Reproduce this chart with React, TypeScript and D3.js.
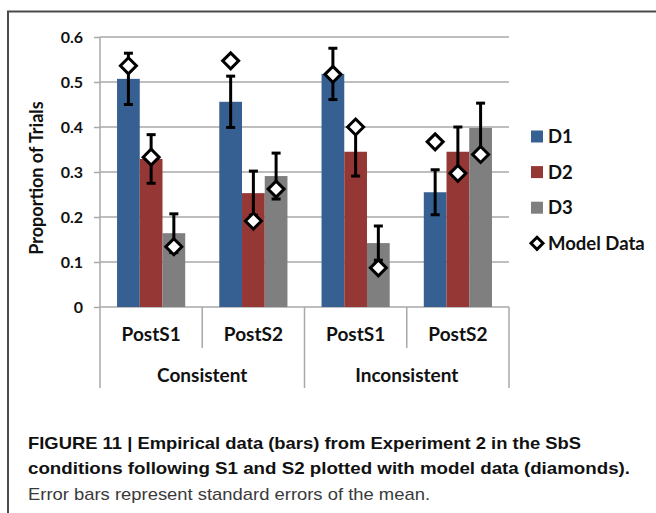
import { useRef, useEffect } from "react";
import * as d3 from "d3";

// categories
const conditions = ["PostS1", "PostS2", "PostS1", "PostS2"];
const groups = ["Consistent", "Inconsistent"];
const seriesNames = ["D1", "D2", "D3"];

// empirical means (bars)
const d1Values = [0.507, 0.456, 0.518, 0.255];
const d2Values = [0.329, 0.253, 0.345, 0.345];
const d3Values = [0.164, 0.291, 0.142, 0.398];

// standard errors
const d1Errors = [0.057, 0.057, 0.057, 0.05];
const d2Errors = [0.054, 0.049, 0.054, 0.055];
const d3Errors = [0.043, 0.051, 0.038, 0.055];

// model data (diamonds)
const modelD1 = [0.536, 0.547, 0.517, 0.367];
const modelD2 = [0.333, 0.191, 0.4, 0.297];
const modelD3 = [0.134, 0.262, 0.087, 0.339];

const yTicks = [0, 0.1, 0.2, 0.3, 0.4, 0.5, 0.6];
const colors = ["#376092", "#953735", "#7f7f7f"];

const captionLines = [
  "FIGURE 11 | Empirical data (bars) from Experiment 2 in the SbS",
  "conditions following S1 and S2 plotted with model data (diamonds).",
  "Error bars represent standard errors of the mean.",
];

export default function App() {
  const svgRef = useRef<SVGSVGElement>(null);

  useEffect(() => {
    if (!svgRef.current) return;
    const svg = d3.select(svgRef.current);
    svg.selectAll("*").remove();

    const width = 656;
    const height = 513;
    const font = "Lato, 'Open Sans', sans-serif";
    const gridColor = "#a8a8a8";

    const left = 100;
    const right = 509;
    const top = 37;
    const bottom = 307;

    svg.attr("width", width).attr("height", height);

    // figure frame (top + left)
    svg
      .append("path")
      .attr("d", `M8,${height} L8,11.5 L${width},11.5`)
      .attr("fill", "none")
      .attr("stroke", "#4a4a4a")
      .attr("stroke-width", 2);

    const x = d3
      .scaleBand<number>()
      .domain(d3.range(conditions.length))
      .range([left, right])
      .padding(0);

    const xInner = d3
      .scaleBand()
      .domain(seriesNames)
      .range([0, x.bandwidth()])
      .paddingInner(0)
      .paddingOuter(0.75);

    const y = d3.scaleLinear().domain([0, 0.6]).range([bottom, top]);

    // Grid lines
    svg
      .selectAll(".grid-line")
      .data(yTicks.filter((d) => d > 0))
      .join("line")
      .attr("class", "grid-line")
      .attr("x1", left)
      .attr("x2", right)
      .attr("y1", (d) => y(d))
      .attr("y2", (d) => y(d))
      .attr("stroke", gridColor)
      .attr("stroke-width", 1.5);

    // Y axis
    const yAxis = svg
      .append("g")
      .attr("transform", `translate(${left},0)`)
      .call(
        d3
          .axisLeft(y)
          .tickValues(yTicks)
          .tickSize(6)
          .tickPadding(11)
          .tickFormat((d) => (d === 0 ? "0" : d3.format(".1f")(d as number)))
      );
    yAxis.select(".domain").remove();
    yAxis.selectAll(".tick line").attr("stroke", gridColor).attr("stroke-width", 1.5);
    yAxis
      .selectAll("text")
      .attr("fill", "#111")
      .style("font-family", font)
      .style("font-weight", "bold")
      .style("font-size", "16px");

    // axis line continuing into category area
    svg
      .append("line")
      .attr("x1", left)
      .attr("x2", left)
      .attr("y1", top)
      .attr("y2", 388)
      .attr("stroke", gridColor)
      .attr("stroke-width", 1.5);

    // category separators
    const seps = d3.range(1, conditions.length + 1).map((i) => ({
      xpos: i < conditions.length ? x(i)! : right,
      outer: i % 2 === 0,
    }));
    svg
      .selectAll(".sep")
      .data(seps)
      .join("line")
      .attr("class", "sep")
      .attr("x1", (d) => d.xpos)
      .attr("x2", (d) => d.xpos)
      .attr("y1", bottom)
      .attr("y2", (d) => (d.outer ? 388 : 348))
      .attr("stroke", gridColor)
      .attr("stroke-width", 1.5);

    // baseline
    svg
      .append("line")
      .attr("x1", left)
      .attr("x2", right)
      .attr("y1", bottom)
      .attr("y2", bottom)
      .attr("stroke", gridColor)
      .attr("stroke-width", 1.5);

    const allValues = [d1Values, d2Values, d3Values];
    const allErrors = [d1Errors, d2Errors, d3Errors];
    const allModel = [modelD1, modelD2, modelD3];

    const points = seriesNames.flatMap((s, si) =>
      conditions.map((_, ci) => ({
        s,
        si,
        ci,
        value: allValues[si][ci],
        err: allErrors[si][ci],
        model: allModel[si][ci],
      }))
    );
    const cx = (d: { s: string; ci: number }) =>
      x(d.ci)! + xInner(d.s)! + xInner.bandwidth() / 2;

    // Bars
    svg
      .selectAll(".bar")
      .data(points)
      .join("rect")
      .attr("class", "bar")
      .attr("x", (d) => x(d.ci)! + xInner(d.s)!)
      .attr("y", (d) => y(d.value))
      .attr("width", xInner.bandwidth())
      .attr("height", (d) => bottom - y(d.value))
      .attr("fill", (d) => colors[d.si]);

    // Error bars
    const eb = svg.append("g").attr("stroke", "#000").attr("stroke-width", 3);
    points.forEach((d) => {
      const c = cx(d);
      const y1 = y(d.value + d.err);
      const y2 = y(d.value - d.err);
      eb.append("line").attr("x1", c).attr("x2", c).attr("y1", y1).attr("y2", y2);
      eb.append("line").attr("x1", c - 4.5).attr("x2", c + 4.5).attr("y1", y1).attr("y2", y1);
      eb.append("line").attr("x1", c - 4.5).attr("x2", c + 4.5).attr("y1", y2).attr("y2", y2);
    });

    // Model diamonds
    const diamond = (r: number) => `M0,${-r} L${r},0 L0,${r} L${-r},0 Z`;
    svg
      .selectAll(".model")
      .data(points)
      .join("path")
      .attr("class", "model")
      .attr("d", diamond(8))
      .attr("transform", (d) => `translate(${cx(d)},${y(d.model)})`)
      .attr("fill", "#fff")
      .attr("stroke", "#000")
      .attr("stroke-width", 3)
      .attr("stroke-linejoin", "miter");

    // X labels
    svg
      .selectAll(".xlabel")
      .data(conditions)
      .join("text")
      .attr("class", "xlabel")
      .attr("x", (_, i) => x(i)! + x.bandwidth() / 2)
      .attr("y", 341)
      .attr("text-anchor", "middle")
      .attr("fill", "#111")
      .style("font-family", font)
      .style("font-weight", "bold")
      .style("font-size", "19px")
      .text((d) => d);

    svg
      .selectAll(".glabel")
      .data(groups)
      .join("text")
      .attr("class", "glabel")
      .attr("x", (_, i) => (x(i * 2)! + x(i * 2 + 1)! + x.bandwidth()) / 2)
      .attr("y", 382)
      .attr("text-anchor", "middle")
      .attr("fill", "#111")
      .style("font-family", font)
      .style("font-weight", "bold")
      .style("font-size", "19px")
      .text((d) => d);

    // Y title
    svg
      .append("text")
      .attr("transform", `translate(43,${(top + bottom) / 2 + 6}) rotate(-90)`)
      .attr("text-anchor", "middle")
      .attr("fill", "#111")
      .style("font-family", font)
      .style("font-weight", "bold")
      .style("font-size", "18px")
      .text("Proportion of Trials");

    // Legend
    const legendItems = [...seriesNames, "Model Data"];
    const lg = svg
      .selectAll(".legend")
      .data(legendItems)
      .join("g")
      .attr("class", "legend")
      .attr("transform", (_, i) => `translate(537,${136.5 + i * 35.6})`);
    lg.each(function (d, i) {
      const g = d3.select(this);
      if (i < 3) {
        g.append("rect")
          .attr("x", -6)
          .attr("y", -6)
          .attr("width", 12)
          .attr("height", 12)
          .attr("fill", colors[i]);
      } else {
        g.append("path")
          .attr("d", diamond(6))
          .attr("fill", "#fff")
          .attr("stroke", "#000")
          .attr("stroke-width", 3);
      }
      g.append("text")
        .attr("x", 11)
        .attr("y", 6.5)
        .attr("fill", "#111")
        .style("font-family", font)
        .style("font-weight", "bold")
        .style("font-size", "18.5px")
        .text(d);
    });

    // Caption
    const capFont = "'Liberation Sans Narrow', 'Liberation Sans', Arial, sans-serif";
    const capRight = [581, 630, 430];
    const capY = [449, 474, 500];
    captionLines.forEach((line, i) => {
      svg
        .append("text")
        .attr("x", 28)
        .attr("y", capY[i])
        .attr("textLength", capRight[i] - 28)
        .attr("lengthAdjust", "spacingAndGlyphs")
        .attr("fill", i < 2 ? "#111" : "#3a3a3a")
        .style("font-family", capFont)
        .style("font-weight", i < 2 ? "bold" : "normal")
        .style("font-size", "17px")
        .text(line);
    });
  }, []);

  return (
    <div style={{ position: "absolute", left: 0, top: 0 }}>
      <svg ref={svgRef} style={{ display: "block" }} />
    </div>
  );
}
